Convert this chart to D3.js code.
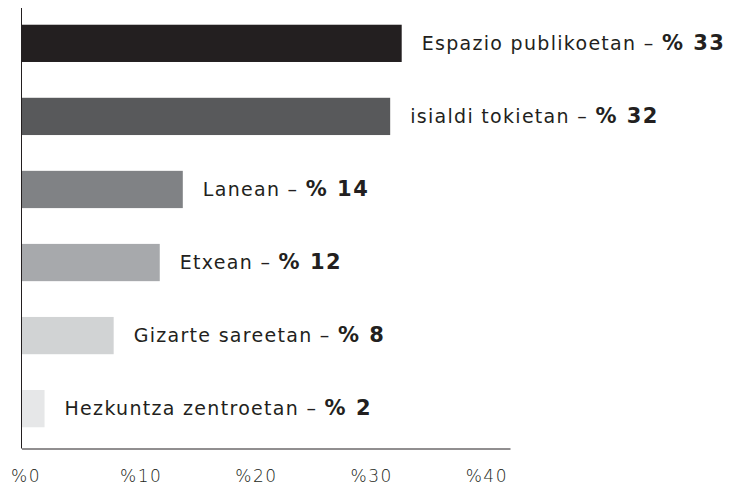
<!DOCTYPE html>
<html><head><meta charset="utf-8">
<script src="https://cdn.jsdelivr.net/npm/d3@7"></script>
<style>
html,body{margin:0;padding:0;background:#fff;}
svg{display:block;}
</style></head>
<body>
<svg id="chart" width="733" height="486"></svg>
<script>
const categories = ["Espazio publikoetan","isialdi tokietan","Lanean","Etxean","Gizarte sareetan","Hezkuntza zentroetan"];
const values = [33, 32, 14, 12, 8, 2];
const colors = ["#231f20","#58595b","#808285","#a7a9ac","#d1d3d4","#e6e7e8"];
const tickValues = [0, 10, 20, 30, 40];

const svg = d3.select("#chart");
const x = d3.scaleLinear().domain([0, 42.4]).range([21.5, 510]);
const y = d3.scaleBand().domain(categories).range([5, 447]).paddingInner(0.49).paddingOuter(0.27);

const data = categories.map((c,i)=>({c, v: values[i], col: colors[i]}));

svg.selectAll("rect.bar").data(data).join("rect")
  .attr("class","bar")
  .attr("x", x(0))
  .attr("y", d=>y(d.c))
  .attr("width", d=>x(d.v)-x(0))
  .attr("height", y.bandwidth())
  .attr("fill", d=>d.col);

const lab = svg.selectAll("text.lab").data(data).join("text")
  .attr("class","lab")
  .attr("x", d=>x(d.v)+20)
  .attr("y", d=>y(d.c)+y.bandwidth()/2)
  .attr("dy","0.36em")
  .attr("fill","#231f20")
  .style("font-family","'DejaVu Sans', sans-serif")
  .style("font-size","19px")
  .style("letter-spacing","1.3px");
lab.append("tspan").text(d=>d.c+" – ");
lab.append("tspan").style("font-family","'DejaVu Sans', sans-serif").style("font-weight","bold")
  .style("font-size","21px").style("letter-spacing","1.5px")
  .text(d=>"% "+d.v);

// y axis line
svg.append("line").attr("x1",x(0)).attr("x2",x(0)).attr("y1",8).attr("y2",448.5)
  .attr("stroke","#231f20").attr("stroke-width",1);

const xAxis = d3.axisBottom(x).tickValues(tickValues).tickSize(0).tickPadding(21)
  .tickFormat(d=>"%"+d);
const gx = svg.append("g").attr("transform","translate(0,448.5)").call(xAxis);
gx.select(".domain").attr("stroke","#231f20");
gx.selectAll("text").attr("fill","#231f20")
  .attr("dx","4px")
  .style("font-family","'DejaVu Sans', sans-serif").style("font-size","17px")
  .style("font-weight","300")
  .style("letter-spacing","1.5px");
</script>
</body></html>
